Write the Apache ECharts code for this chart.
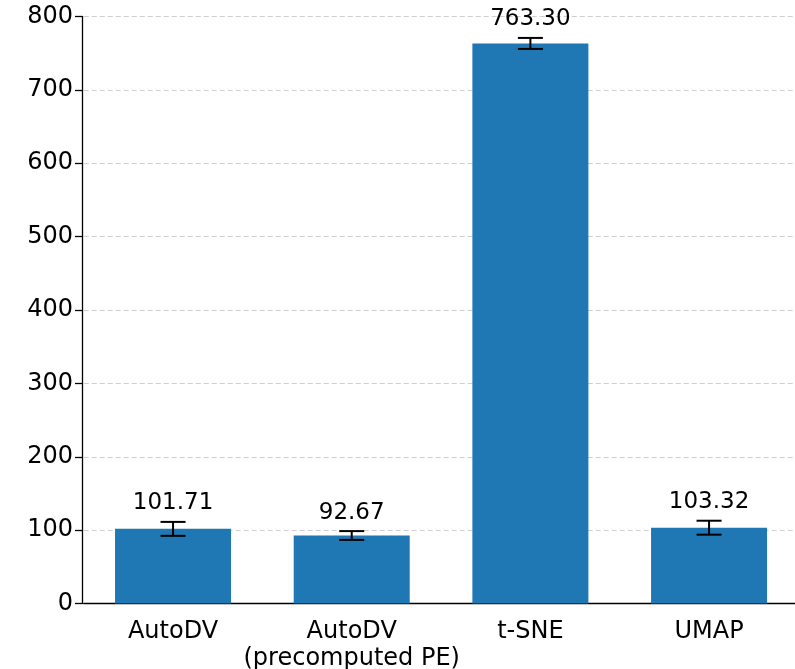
<!DOCTYPE html>
<html>
<head>
<meta charset="utf-8">
<script src="https://cdn.jsdelivr.net/npm/echarts@6/dist/echarts.min.js"></script>
<style>
  html, body { margin: 0; padding: 0; background: #fff; }
  #chart { width: 795px; height: 669px; }
</style>
</head>
<body>
<div id="chart"></div>
<script>
// Mean runtime per method with its standard deviation
const categories = ['AutoDV', 'AutoDV\n(precomputed PE)', 't-SNE', 'UMAP'];
const means = [101.71, 92.67, 763.30, 103.32];
const stds = [9.5, 6.0, 7.5, 9.5];

const FONT = '"DejaVu Sans", "Liberation Sans", sans-serif';
const chart = echarts.init(document.getElementById('chart'), null, { renderer: 'canvas' });

const errData = means.map((m, i) => [i, m, stds[i]]);

chart.setOption({
  animation: false,
  backgroundColor: '#ffffff',
  grid: {
    left: 83.7, top: 16.5, width: 714.7, height: 587,
    containLabel: false,
    outerBoundsMode: 'none'
  },
  xAxis: {
    type: 'category',
    data: categories,
    axisLine: { lineStyle: { color: '#000', width: 1.3 } },
    axisTick: { alignWithLabel: true, interval: 0, length: 7, lineStyle: { color: '#000', width: 1.3 } },
    axisLabel: { interval: 0, color: '#000', fontSize: 24, fontFamily: FONT, margin: 15, lineHeight: 27 },
    splitLine: { show: false }
  },
  yAxis: {
    type: 'value',
    min: 0,
    max: 800,
    interval: 100,
    offset: 1.7,
    axisLine: { show: true, lineStyle: { color: '#000', width: 1.3 } },
    axisTick: { show: true, length: 7, lineStyle: { color: '#000', width: 1.3 } },
    axisLabel: { color: '#000', fontSize: 24, fontFamily: FONT, margin: 9 },
    splitLine: { show: true, lineStyle: { color: '#cfcfcf', type: [5, 3], width: 1 } }
  },
  series: [
    {
      type: 'bar',
      data: means,
      barWidth: 116,
      itemStyle: { color: '#1f77b4' },
      z: 2
    },
    {
      // error bars with caps, plus the mean value written above each one
      type: 'custom',
      data: errData,
      z: 5,
      renderItem: function (params, api) {
        const i = api.value(0);
        const m = api.value(1);
        const s = api.value(2);
        const top = api.coord([i, m + s]);
        const bot = api.coord([i, m - s]);
        const hw = 12.5;
        const ls = { stroke: '#000', lineWidth: 2 };
        return {
          type: 'group',
          children: [
            { type: 'line', shape: { x1: top[0], y1: top[1], x2: bot[0], y2: bot[1] }, style: ls },
            { type: 'line', shape: { x1: top[0] - hw, y1: top[1], x2: top[0] + hw, y2: top[1] }, style: ls },
            { type: 'line', shape: { x1: bot[0] - hw, y1: bot[1], x2: bot[0] + hw, y2: bot[1] }, style: ls },
            {
              type: 'text',
              style: {
                text: m.toFixed(2),
                x: top[0],
                y: top[1] - 7,
                align: 'center',
                verticalAlign: 'bottom',
                font: '23px ' + FONT,
                fill: '#000'
              }
            }
          ]
        };
      }
    }
  ]
});
</script>
</body>
</html>
